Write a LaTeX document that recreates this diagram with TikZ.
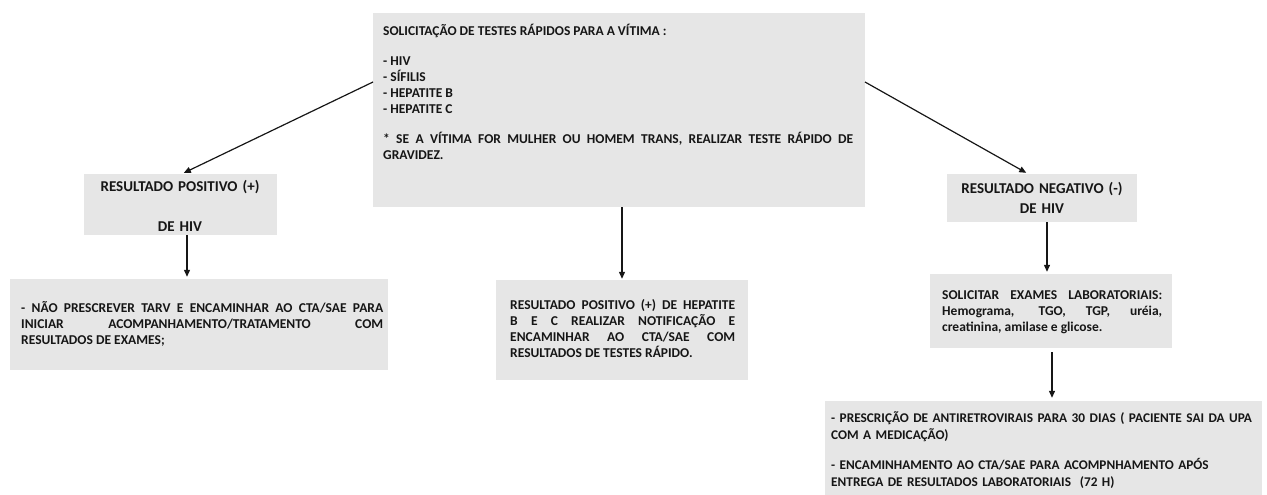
\documentclass[tikz,border=0pt]{standalone}
\usepackage{fontspec}
\setmainfont{Carlito}
\usetikzlibrary{arrows.meta}
\definecolor{boxgray}{HTML}{E6E6E6}
\definecolor{ink}{HTML}{161616}
\hyphenpenalty=10000
\exhyphenpenalty=10000
\tikzset{
  box/.style  = {fill=boxgray, inner sep=0pt},
  txt/.style  = {inner sep=0pt, text=ink, align=justify,
                 font=\fontsize{13.5}{16}\selectfont\bfseries},
  ctr/.style  = {inner sep=0pt, text=ink, align=center,
                 font=\fontsize{15}{18}\selectfont\bfseries},
  flow/.style = {-{Triangle[length=7pt,width=6pt]}, line width=1.2pt, ink},
}
\begin{document}
\begin{tikzpicture}[x=1pt, y=-1pt]
\useasboundingbox (0,0) rectangle (1267,495);
% ---- request of rapid tests ----
\node[box, minimum width=492pt, minimum height=194pt] (req) at (619,110) {};
\node[txt, text width=470pt, anchor=base west] (reqtxt) at (383,36)
  {SOLICITAÇÃO DE TESTES RÁPIDOS PARA A VÍTIMA :\\[14pt]
   - HIV\\ - SÍFILIS\\ - HEPATITE B\\ - HEPATITE C\\[14pt]
   * SE A VÍTIMA FOR MULHER OU HOMEM TRANS, REALIZAR TESTE RÁPIDO DE\linebreak
   GRAVIDEZ.};
% ---- positive HIV branch ----
\node[box, minimum width=193pt, minimum height=61pt] (pos) at (180.5,204.5) {};
\node[ctr, text width=190pt, anchor=base] (postxt) at (180,191)
  {RESULTADO POSITIVO (+)\\[22pt] DE HIV};
\node[box, minimum width=378pt, minimum height=91pt] (nao) at (199,324.5) {};
\node[txt, text width=362pt, anchor=base west] (naotxt) at (21,312)
  {- NÃO PRESCREVER TARV E ENCAMINHAR AO CTA/SAE PARA\linebreak
   INICIAR ACOMPANHAMENTO/TRATAMENTO COM\linebreak
   RESULTADOS DE EXAMES;};
% ---- hepatitis ----
\node[box, minimum width=252pt, minimum height=100pt] (hep) at (622,330) {};
\node[txt, text width=225pt, anchor=base west] (heptxt) at (510,309)
  {RESULTADO POSITIVO (+) DE HEPATITE\linebreak
   B E C REALIZAR NOTIFICAÇÃO E\linebreak
   ENCAMINHAR AO CTA/SAE COM\linebreak
   RESULTADOS DE TESTES RÁPIDO.};
% ---- negative HIV branch ----
\node[box, minimum width=190pt, minimum height=48pt] (neg) at (1042,198) {};
\node[ctr, text width=188pt, anchor=base] (negtxt) at (1042,193)
  {RESULTADO NEGATIVO (-)\\[2pt] DE HIV};
\node[box, minimum width=242pt, minimum height=74pt] (lab) at (1051,311) {};
\node[txt, text width=220pt, anchor=base west] (labtxt) at (942,299)
  {SOLICITAR EXAMES LABORATORIAIS:\linebreak
   Hemograma, TGO, TGP, uréia,\linebreak
   creatinina, amilase e glicose.};
\node[box, minimum width=437pt, minimum height=94pt] (arv) at (1043.5,448) {};
\node[txt, text width=428pt, anchor=base west, align=left,
      font=\fontsize{13.3}{17}\selectfont\bfseries] (arvtxt) at (831,422)
  {- PRESCRIÇÃO DE ANTIRETROVIRAIS PARA 30 DIAS ( PACIENTE SAI DA UPA\\
   COM A MEDICAÇÃO)\\[13pt]
   - ENCAMINHAMENTO AO CTA/SAE PARA ACOMPNHAMENTO APÓS\\
   ENTREGA DE RESULTADOS LABORATORIAIS~~(72 H)};
% ---- connectors ----
\coordinate (reqL) at (373,82);
\coordinate (reqR) at (865,82);
\draw[flow, shorten >=2pt] (reqL) -- ([xshift=1.5pt]pos.north);
\draw[flow, shorten >=2pt] (reqR) -- ([xshift=-14pt]neg.north);
\draw[flow, shorten >=1pt] (req.south -| hep.north) -- (hep.north);
\draw[flow, shorten >=2pt] ([xshift=6.5pt]pos.south)
      -- ([xshift=6.5pt]pos.south |- nao.north);
\draw[flow, shorten >=2pt] ([xshift=5pt]neg.south)
      -- ([xshift=5pt]neg.south |- lab.north);
\draw[flow, shorten <=4pt, shorten >=3pt] ([xshift=1pt]lab.south)
      -- ([xshift=1pt]lab.south |- arv.north);
\end{tikzpicture}
\end{document}
